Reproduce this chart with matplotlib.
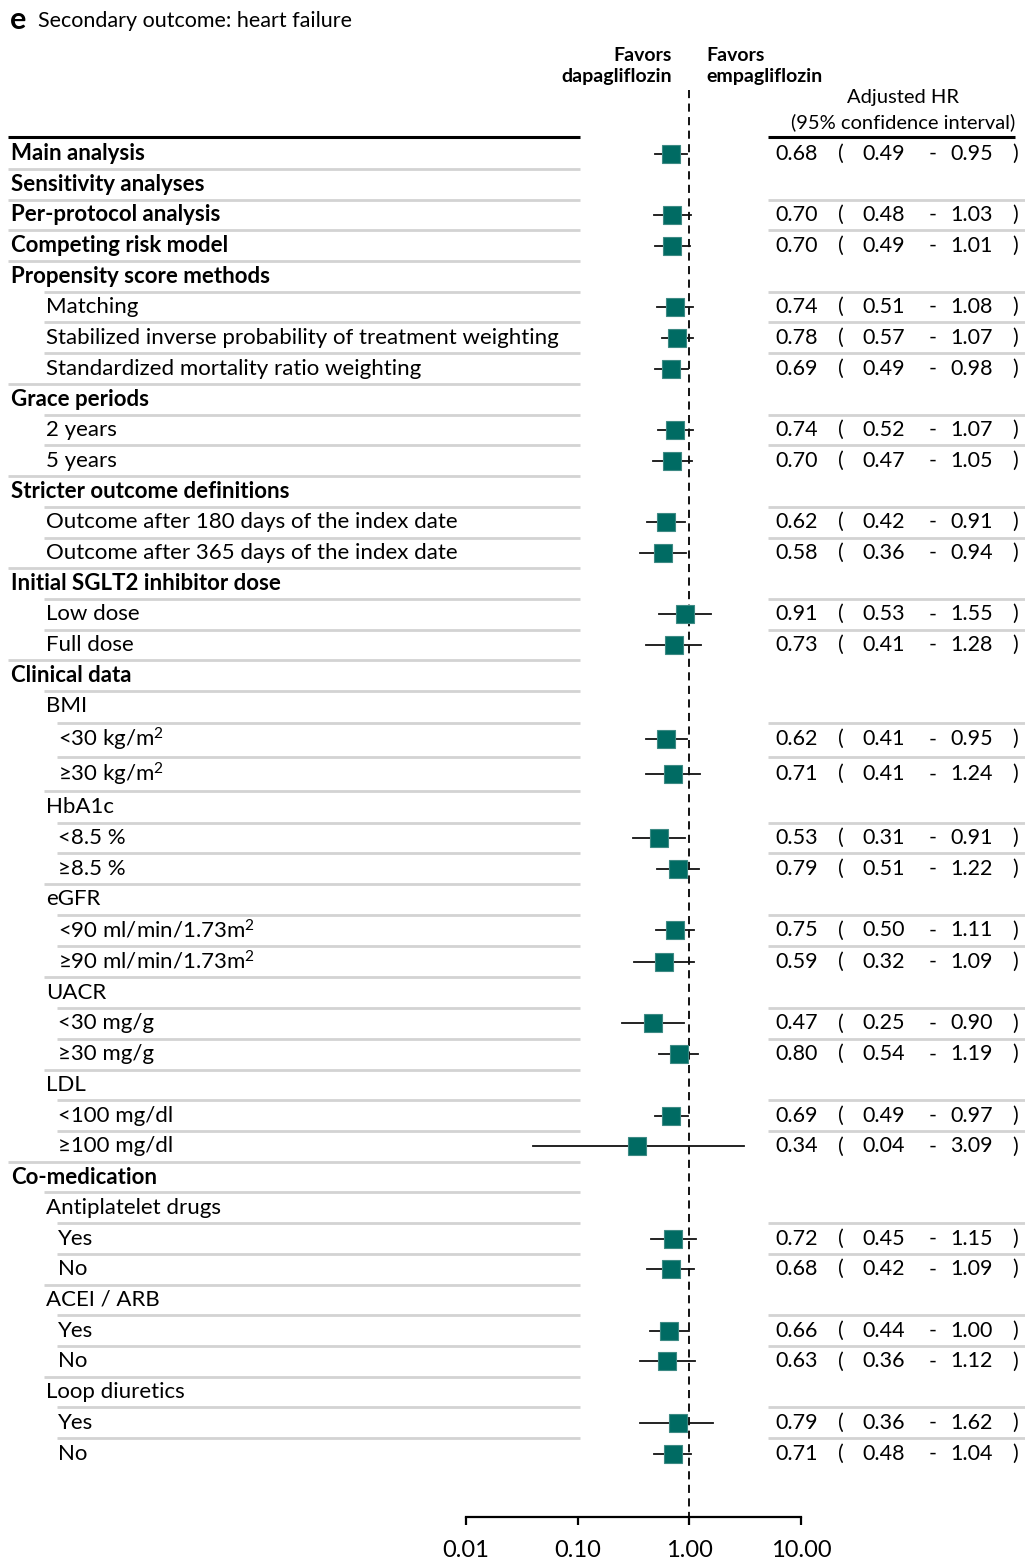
import numpy as np
import matplotlib
matplotlib.use("Agg")
import matplotlib.pyplot as plt

plt.rcParams['font.family'] = ['Lato', 'DejaVu Sans']
plt.rcParams['mathtext.fontset'] = 'custom'
plt.rcParams['mathtext.rm'] = 'Lato'
plt.rcParams['mathtext.it'] = 'Lato:italic'
plt.rcParams['mathtext.bf'] = 'Lato:bold'

# Forest plot data: secondary outcome heart failure
labels = [
    "Main analysis", "Sensitivity analyses", "Per-protocol analysis",
    "Competing risk model", "Propensity score methods", "Matching",
    "Stabilized inverse probability of treatment weighting",
    "Standardized mortality ratio weighting", "Grace periods", "2 years",
    "5 years", "Stricter outcome definitions",
    "Outcome after 180 days of the index date",
    "Outcome after 365 days of the index date",
    "Initial SGLT2 inhibitor dose", "Low dose", "Full dose", "Clinical data",
    "BMI", r"<30 kg/m$^\mathregular{2}$", r"≥30 kg/m$^\mathregular{2}$", "HbA1c",
    "<8.5 %", "≥8.5 %", "eGFR",
    r"<90 ml/min/1.73m$^\mathregular{2}$", r"≥90 ml/min/1.73m$^\mathregular{2}$",
    "UACR", "<30 mg/g", "≥30 mg/g",
    "LDL", "<100 mg/dl", "≥100 mg/dl", "Co-medication", "Antiplatelet drugs",
    "Yes", "No", "ACEI / ARB", "Yes", "No", "Loop diuretics", "Yes", "No",
]
levels = [0, 0, 0, 0, 0, 1, 1, 1, 0, 1, 1, 0, 1, 1, 0, 1, 1, 0,
          1, 2, 2, 1, 2, 2, 1, 2, 2, 1, 2, 2, 1, 2, 2, 0, 1, 2, 2, 1, 2, 2, 1, 2, 2]
hr = [0.68, None, 0.70, 0.70, None, 0.74, 0.78, 0.69, None, 0.74, 0.70, None,
      0.62, 0.58, None, 0.91, 0.73, None, None, 0.62, 0.71, None, 0.53, 0.79,
      None, 0.75, 0.59, None, 0.47, 0.80, None, 0.69, 0.34, None, None, 0.72,
      0.68, None, 0.66, 0.63, None, 0.79, 0.71]
lo = [0.49, None, 0.48, 0.49, None, 0.51, 0.57, 0.49, None, 0.52, 0.47, None,
      0.42, 0.36, None, 0.53, 0.41, None, None, 0.41, 0.41, None, 0.31, 0.51,
      None, 0.50, 0.32, None, 0.25, 0.54, None, 0.49, 0.04, None, None, 0.45,
      0.42, None, 0.44, 0.36, None, 0.36, 0.48]
hi = [0.95, None, 1.03, 1.01, None, 1.08, 1.07, 0.98, None, 1.07, 1.05, None,
      0.91, 0.94, None, 1.55, 1.28, None, None, 0.95, 1.24, None, 0.91, 1.22,
      None, 1.11, 1.09, None, 0.90, 1.19, None, 0.97, 3.09, None, None, 1.15,
      1.09, None, 1.00, 1.12, None, 1.62, 1.04]
axis_ticks = [0.01, 0.1, 1, 10]
axis_ticklabels = ["0.01", "0.10", "1.00", "10.00"]

W, H = 1025, 1559
fig = plt.figure(figsize=(W / 100, H / 100), dpi=100)
base = fig.add_axes([0, 0, 1, 1])
base.set_xlim(0, W)
base.set_ylim(H, 0)
base.axis("off")

teal = "#006b63"
grey = "#d3d3d3"
fs = 16
nfs = 15.5

# row centres; the rows with superscripts sit a little taller
pitch = 30.72
heights = []
for s in labels:
    if "kg/m$" in s:
        heights.append(1.14)
    elif "$" in s:
        heights.append(1.02)
    else:
        heights.append(1.0)
ys = [153.5]
for i in range(1, len(labels)):
    ys.append(ys[-1] + pitch * (heights[i - 1] + heights[i]) / 2)

text_x = {0: 11, 1: 46, 2: 58}
line_x = {0: 8, 1: 44, 2: 57}

# title
base.text(10, 20, "e", fontsize=22, fontweight="bold", va="center", ha="left")
base.text(38, 21, "Secondary outcome: heart failure", fontsize=15.5, va="center", ha="left")

# header
base.text(672, 66, "Favors\ndapagliflozin", fontsize=14, fontweight="bold",
          ha="right", va="center", linespacing=1.25)
base.text(706, 66, "Favors\nempagliflozin", fontsize=14, fontweight="bold",
          ha="left", va="center", linespacing=1.25)
base.text(903, 97, "Adjusted HR", fontsize=14.5, ha="center", va="center")
base.text(903, 122, "(95% confidence interval)", fontsize=14.5, ha="center", va="center")

base.plot([8, 580], [137, 137], color="black", lw=2.2, solid_capstyle="butt")
base.plot([768, 1015], [137, 137], color="black", lw=2.2, solid_capstyle="butt")

for i, (lab, lev, y) in enumerate(zip(labels, levels, ys)):
    base.text(text_x[lev], y, lab, fontsize=fs, va="center", ha="left",
              fontweight="bold" if lev == 0 else "normal")
    if i > 0:
        yl = (ys[i - 1] + y) / 2
        base.plot([line_x[lev], 580], [yl, yl], color=grey, lw=2.0,
                  solid_capstyle="butt")
        if hr[i] is not None:
            base.plot([768, W], [yl, yl], color=grey, lw=2.0, solid_capstyle="butt")
    if hr[i] is not None:
        base.text(775, y, f"{hr[i]:.2f}", fontsize=nfs, va="center", ha="left")
        base.text(838, y, "(", fontsize=nfs, va="center", ha="left")
        base.text(862, y, f"{lo[i]:.2f}", fontsize=nfs, va="center", ha="left")
        base.text(929, y, "-", fontsize=nfs, va="center", ha="left")
        base.text(950, y, f"{hi[i]:.2f}", fontsize=nfs, va="center", ha="left")
        base.text(1012, y, ")", fontsize=nfs, va="center", ha="left")

# forest panel on a log scale
ax_bottom = 1517
fax = fig.add_axes([466 / W, 0, (801 - 466) / W, 1])
fax.patch.set_visible(False)
fax.set_xscale("log")
fax.set_xlim(0.01, 10)
fax.set_ylim(H, 0)
for side in ["top", "left", "right"]:
    fax.spines[side].set_visible(False)
fax.spines["bottom"].set_position(("data", ax_bottom))
fax.spines["bottom"].set_linewidth(1.6)
fax.set_yticks([])
fax.set_xticks(axis_ticks)
fax.set_xticklabels(axis_ticklabels, fontsize=17)
fax.xaxis.set_minor_locator(matplotlib.ticker.NullLocator())
fax.tick_params(axis="x", direction="out", length=5.5, width=1.6, pad=11)

fax.plot([1, 1], [90, ax_bottom], color="black", lw=1.3, ls=(0, (4.5, 3)))

for i, y in enumerate(ys):
    if hr[i] is None:
        continue
    fax.plot([lo[i], hi[i]], [y, y], color="#111111", lw=1.3, clip_on=False)
    fax.plot(hr[i], y, marker="s", ms=13.5, color=teal, mec="#3d8a84",
             mew=0.8, clip_on=False, zorder=3)

fig.savefig("out.png", dpi=100)
